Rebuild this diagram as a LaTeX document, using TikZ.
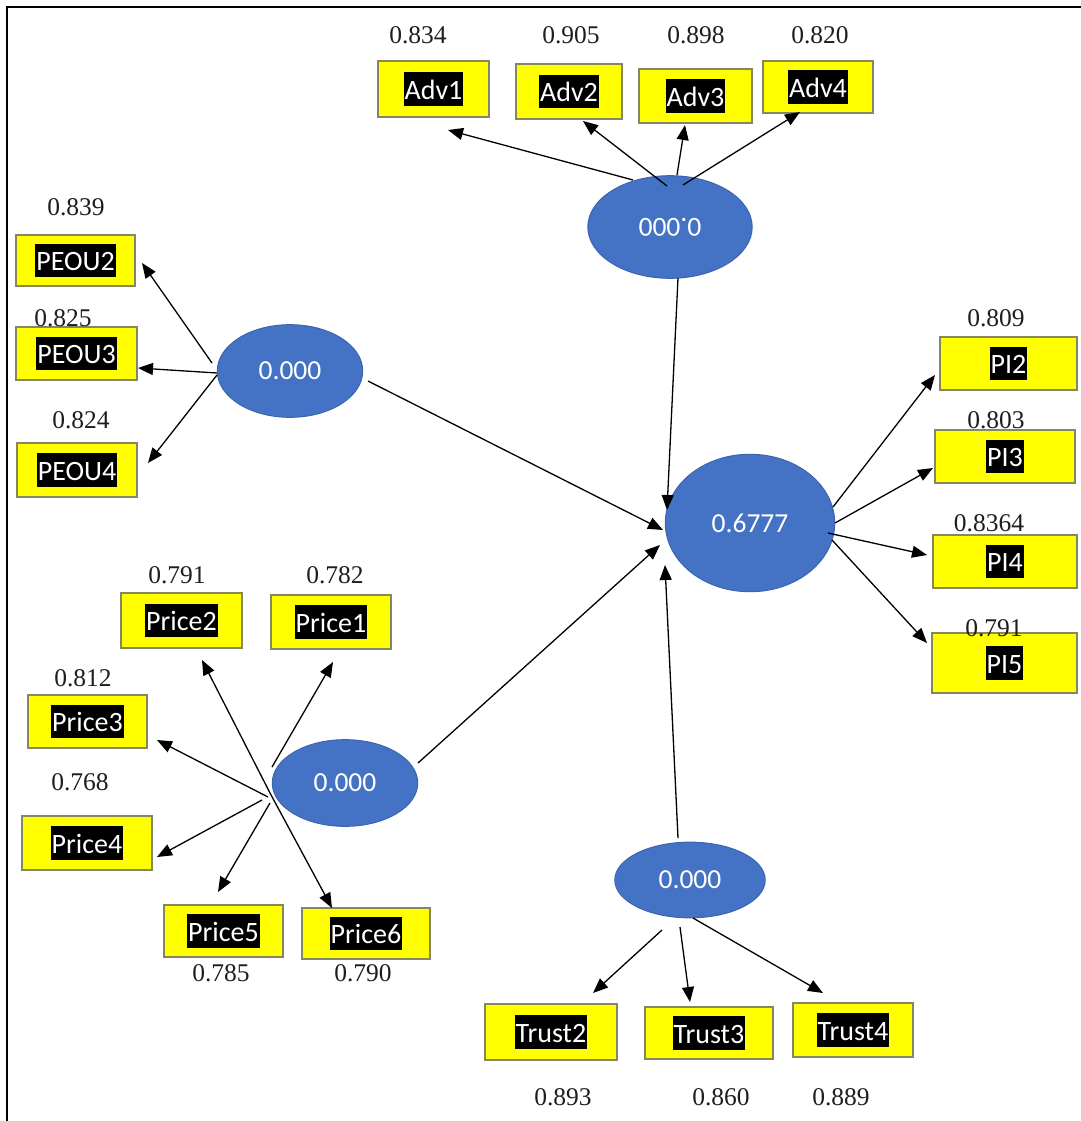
\documentclass[tikz,border=0pt]{standalone}
\usepackage{fontspec}
\setmainfont{Liberation Serif}
\newfontfamily\labfont{Carlito}
\usetikzlibrary{arrows.meta,calc,shapes.geometric}
\definecolor{ellblue}{RGB}{68,114,196}
\definecolor{elledge}{RGB}{60,100,175}
\definecolor{boxedge}{RGB}{135,135,95}
\definecolor{numgray}{RGB}{30,30,30}
\definecolor{boxyellow}{RGB}{255,255,0}
\newcommand\hlab[1]{{\setlength{\fboxsep}{1bp}\colorbox{black}{\textcolor{white}{\rule[-0.2em]{0pt}{1.12em}#1}}}}
\tikzset{
  ind/.style={draw=boxedge, line width=2bp, fill=boxyellow, inner sep=0pt,
    font=\labfont\fontsize{28bp}{32bp}\selectfont},
  lat/.style={ellipse, draw=elledge, line width=1bp, fill=ellblue, inner sep=0pt,
    text=white, font=\labfont\fontsize{27.5bp}{30bp}\selectfont},
  num/.style={inner sep=0pt, text=numgray, font=\fontsize{25.5bp}{28bp}\selectfont},
  arr/.style={line width=1.3bp, -{Triangle[length=15bp,width=12bp]}},
  frame/.style={line width=1.8bp}
}
\begin{document}
\begin{tikzpicture}[x=1bp,y=-1bp]
\useasboundingbox (0,0) rectangle (1081,1121);
\coordinate (fbl) at (7,1121);
\coordinate (ftl) at (7,7);
\coordinate (ftr) at (1081,7);
\draw[frame] (fbl) -- (ftl) -- (ftr);

% latent variables
\node[lat, minimum width=165, minimum height=103] (adv) at (670,227) {\rotatebox{180}{0.000}};
\node[lat, minimum width=146, minimum height=93] (peou) at (290,371) {0.000};
\node[lat, minimum width=146, minimum height=87] (price) at (345,783) {0.000};
\node[lat, minimum width=170, minimum height=138] (main) at (750,523) {0.6777};
\node[lat, minimum width=151, minimum height=76] (trust) at (690,880) {0.000};

% indicators
\node[ind, minimum width=111, minimum height=56] (adv1) at (433.5,89) {\hlab{Adv1}};
\node[ind, minimum width=106, minimum height=55] (adv2) at (569,91.5) {\hlab{Adv2}};
\node[ind, minimum width=113, minimum height=54] (adv3) at (695.5,96) {\hlab{Adv3}};
\node[ind, minimum width=110, minimum height=52] (adv4) at (818,87) {\hlab{Adv4}};
\node[ind, minimum width=119, minimum height=51] (peou2) at (75.5,260.5) {\hlab{PEOU2}};
\node[ind, minimum width=121, minimum height=53] (peou3) at (76.5,353.5) {\hlab{PEOU3}};
\node[ind, minimum width=120, minimum height=54] (peou4) at (77,470) {\hlab{PEOU4}};
\node[ind, minimum width=121, minimum height=55] (price2) at (181.5,620.5) {\hlab{Price2}};
\node[ind, minimum width=120, minimum height=54] (price1) at (331,622) {\hlab{Price1}};
\node[ind, minimum width=119, minimum height=53] (price3) at (87.5,721.5) {\hlab{Price3}};
\node[ind, minimum width=130, minimum height=54] (price4) at (87,843) {\hlab{Price4}};
\node[ind, minimum width=119, minimum height=52] (price5) at (223.5,931) {\hlab{Price5}};
\node[ind, minimum width=128, minimum height=51] (price6) at (366,933.5) {\hlab{Price6}};
\node[ind, minimum width=137, minimum height=53] (pi2) at (1008.5,363.5) {\hlab{PI2}};
\node[ind, minimum width=140, minimum height=53] (pi3) at (1005,456.5) {\hlab{PI3}};
\node[ind, minimum width=144, minimum height=53] (pi4) at (1005,561.5) {\hlab{PI4}};
\node[ind, minimum width=145, minimum height=60] (pi5) at (1004.5,663) {\hlab{PI5}};
\node[ind, minimum width=132, minimum height=56] (trust2) at (551,1032) {\hlab{Trust2}};
\node[ind, minimum width=128, minimum height=52] (trust3) at (709,1033) {\hlab{Trust3}};
\node[ind, minimum width=120, minimum height=54] (trust4) at (853,1030) {\hlab{Trust4}};

% loadings
\node[num] (nadv1) at (418,35) {0.834};
\node[num] (nadv2) at (571,35) {0.905};
\node[num] (nadv3) at (696,35) {0.898};
\node[num] (nadv4) at (820,35) {0.820};
\node[num] (npeou2) at (76,207) {0.839};
\node[num] (npeou3) at (63,318) {0.825};
\node[num] (npeou4) at (81,420) {0.824};
\node[num] (nprice2) at (177,575) {0.791};
\node[num] (nprice1) at (335,575) {0.782};
\node[num] (nprice3) at (83,678) {0.812};
\node[num] (nprice4) at (80,782) {0.768};
\node[num] (nprice5) at (221,973) {0.785};
\node[num] (nprice6) at (363,973) {0.790};
\node[num] (npi2) at (996,318) {0.809};
\node[num] (npi3) at (996,420) {0.803};
\node[num] (npi4) at (989,523) {0.8364};
\node[num] (npi5) at (994,628) {0.791};
\node[num] (ntrust2) at (563,1097) {0.893};
\node[num] (ntrust3) at (721,1097) {0.860};
\node[num] (ntrust4) at (841,1097) {0.889};

% Adv arrows
\draw[arr] ($(adv)+(-37,-47)$) -- ($(adv1)+(14.5,41)$);
\draw[arr] ($(adv)+(-3,-41)$) -- ($(adv2)+(14,29.5)$);
\draw[arr] ($(adv)+(7,-52)$) -- ($(adv3)+(-10.5,29)$);
\draw[arr] ($(adv)+(13,-42)$) -- ($(adv4)+(-18,25)$);
\draw[arr] ($(adv)+(8,51)$) -- ($(main)+(-83,-13)$);

% PEOU arrows
\draw[arr] ($(peou)+(-78,-8)$) -- ($(peou2)+(66.5,2.5)$);
\draw[arr] ($(peou)+(-73,2)$) -- ($(peou3)+(61.5,14.5)$);
\draw[arr] ($(peou)+(-73,4)$) -- ($(peou4)+(71,-7)$);
\draw[arr] ($(peou)+(78,10)$) -- ($(main)+(-87,7)$);

% Price arrows
\draw[arr] ($(price)+(-75,10)$) -- ($(price2)+(20.5,39.5)$);
\draw[arr] ($(price)+(-73,-16)$) -- ($(price1)+(2,40)$);
\draw[arr] ($(price)+(-77,14)$) -- ($(price3)+(69.5,18.5)$);
\draw[arr] ($(price)+(-83,17)$) -- ($(price4)+(70,14)$);
\draw[arr] ($(price)+(-75,20)$) -- ($(price5)+(-5.5,-39)$);
\draw[arr] ($(price)+(-75,10)$) -- ($(price6)+(-34,-25.5)$);
\draw[arr] ($(price)+(73,-20)$) -- ($(main)+(-90,22)$);

% PI arrows
\draw[arr] ($(main)+(83,-16)$) -- ($(pi2)+(-73.5,11.5)$);
\draw[arr] ($(main)+(85,0)$) -- ($(pi3)+(-72,11.5)$);
\draw[arr] ($(main)+(78,10)$) -- ($(pi4)+(-78,-6.5)$);
\draw[arr] ($(main)+(82,17)$) -- ($(pi5)+(-77.5,-20)$);

% Trust arrows
\draw[arr] ($(trust)+(-12,-42)$) -- ($(main)+(-85,42)$);
\draw[arr] ($(trust)+(-28,50)$) -- ($(trust2)+(42,-39)$);
\draw[arr] ($(trust)+(-10,47)$) -- ($(trust3)+(-19,-31)$);
\draw[arr] ($(trust)+(3,38)$) -- ($(trust4)+(-30,-37)$);
\end{tikzpicture}
\end{document}
